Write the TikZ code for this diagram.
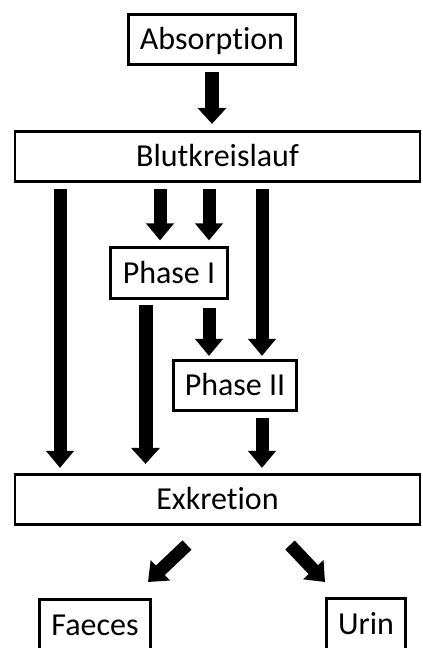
\documentclass[tikz,border=0pt]{standalone}
\usepackage{fontspec}
\setmainfont{Carlito}[RawFeature={-liga}]
\usetikzlibrary{arrows.meta}
\begin{document}
\begin{tikzpicture}[x=1pt,y=-1pt,
  box/.style={draw=black, line width=2.7pt, fill=white, inner sep=0pt,
    minimum height=50.5pt, text height=20.5pt, text depth=0pt,
    font=\fontsize{32}{36}\selectfont},
  fat/.style={line width=14pt, -{Triangle[width=28pt,length=16pt]}},
  fatd/.style={line width=13pt, -{Triangle[width=27pt,length=17pt]}}]
\clip (0,0) rectangle (423,648);
\fill[white] (0,0) rectangle (423,648);
% nodes
\node[box, minimum width=167pt] (abs) at (212,39.5) {Absorption};
\node[box, minimum width=405pt] (blut) at (217.5,156.5) {Blutkreislauf};
\node[box, minimum width=117pt] (ph1) at (169,273) {Phase I};
\node[box, minimum width=123pt] (ph2) at (235,385.5) {Phase II};
\node[box, minimum width=405pt] (exk) at (217.5,499.5) {Exkretion};
\node[box, minimum width=111pt] (fae) at (95,625) {Faeces};
\node[box, minimum width=79pt] (uri) at (366,624) {Urin};
% x positions of vertical arrows
\coordinate (xa) at (60,0);
\coordinate (xb) at (160,0);
\coordinate (xc) at (209,0);
\coordinate (xd) at (262,0);
\coordinate (xe) at (145.5,0);
% arrows
\draw[fat, shorten <=6pt, shorten >=6pt] (abs.south) -- (abs.south |- blut.north);
\draw[fatd, shorten <=6pt, shorten >=5pt] (blut.south -| xa) -- (exk.north -| xa);
\draw[fatd, shorten <=6pt, shorten >=6pt] (blut.south -| xb) -- (ph1.north -| xb);
\draw[fatd, shorten <=6pt, shorten >=6pt] (blut.south -| xc) -- (ph1.north -| xc);
\draw[fatd, shorten <=6pt, shorten >=3pt] (blut.south -| xd) -- (ph2.north -| xd);
\draw[fat, shorten <=5pt, shorten >=9pt] (ph1.south -| xe) -- (exk.north -| xe);
\draw[fatd, shorten <=8pt, shorten >=3pt] (ph1.south -| xc) -- (ph2.north -| xc);
\draw[fatd, shorten <=6pt, shorten >=5pt] (ph2.south -| xd) -- (exk.north -| xd);
\coordinate (f1) at (187,545);
\coordinate (f2) at (148,582);
\coordinate (u1) at (290,545);
\coordinate (u2) at (325,582);
\draw[fatd] (f1) -- (f2);
\draw[fatd] (u1) -- (u2);
\end{tikzpicture}
\end{document}
